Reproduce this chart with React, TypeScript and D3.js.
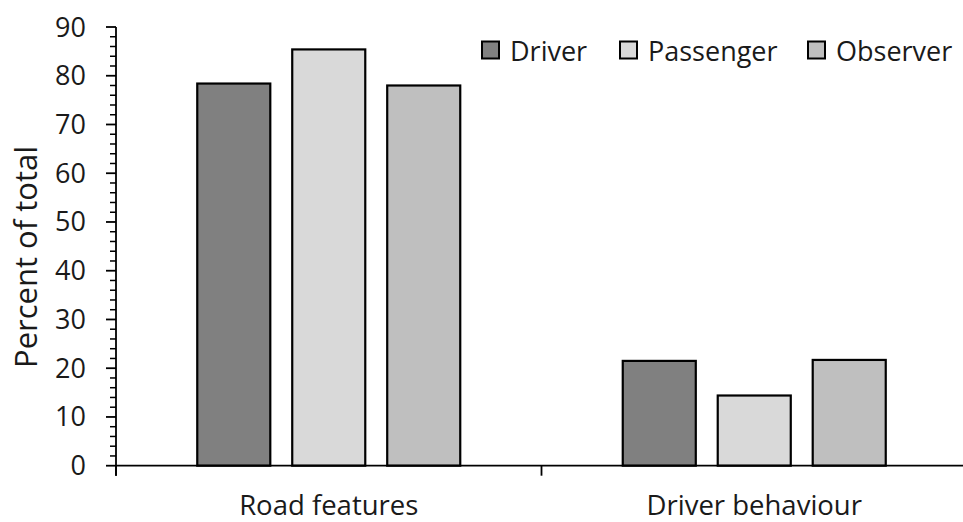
import React from "react";
import * as d3 from "d3";

// Share of responses, by respondent role
const categories = ["Road features", "Driver behaviour"];
const seriesNames = ["Driver", "Passenger", "Observer"];
const driverValues = [78.4, 21.5];
const passengerValues = [85.4, 14.4];
const observerValues = [78.0, 21.7];
const seriesColors = ["#808080", "#d9d9d9", "#bfbfbf"];
const yMajorTicks = [0, 10, 20, 30, 40, 50, 60, 70, 80, 90];
const yLabel = "Percent of total";

const W = 963;
const H = 522;
const FONT = "'Open Sans', 'DejaVu Sans', sans-serif";

export default function App() {
  const seriesValues = [driverValues, passengerValues, observerValues];

  const x0 = d3.scaleBand<string>().domain(categories).range([116, 967]).padding(0);
  const x1 = d3
    .scaleBand<string>()
    .domain(seriesNames)
    .range([0, x0.bandwidth()])
    .paddingInner(0.21)
    .paddingOuter(0.845);
  const y = d3.scaleLinear().domain([0, 90]).range([465.7, 27]);

  const minorTicks = d3.range(0, 90.001, 2).filter((v) => v % 10 !== 0);
  const axisX = x0.range()[0];
  const baseY = y(0);

  const legendItems = [
    { name: seriesNames[0], x: 482 },
    { name: seriesNames[1], x: 620 },
    { name: seriesNames[2], x: 808 },
  ];

  return (
    <svg
      width={W}
      height={H}
      style={{ position: "absolute", left: 0, top: 0, background: "#fff" }}
      fontFamily={FONT}
    >
      {/* bars */}
      {categories.map((cat, ci) =>
        seriesNames.map((s, si) => {
          const v = seriesValues[si][ci];
          const bx = (x0(cat) ?? 0) + (x1(s) ?? 0);
          return (
            <rect
              key={cat + s}
              x={bx + 1}
              y={y(v)}
              width={x1.bandwidth() - 2}
              height={baseY - y(v)}
              fill={seriesColors[si]}
              stroke="#000"
              strokeWidth={2.2}
            />
          );
        })
      )}

      {/* x axis */}
      <line x1={axisX} x2={W} y1={baseY} y2={baseY} stroke="#000" strokeWidth={1.8} />
      {[...categories.map((c) => x0(c) ?? 0), x0.range()[1]].map((tx, i) => (
        <line key={"xt" + i} x1={tx} x2={tx} y1={baseY} y2={baseY + 10} stroke="#000" strokeWidth={1.8} />
      ))}
      {categories.map((c) => (
        <text
          key={"xl" + c}
          x={(x0(c) ?? 0) + x0.bandwidth() / 2}
          y={514.5}
          textAnchor="middle"
          fontSize={27.5}
          fill="#1a1a1a"
        >
          {c}
        </text>
      ))}

      {/* y axis */}
      <line x1={axisX} x2={axisX} y1={y(90)} y2={baseY + 10} stroke="#000" strokeWidth={1.8} />
      {yMajorTicks.map((t) => (
        <g key={"ym" + t}>
          <line x1={axisX - 10} x2={axisX} y1={y(t)} y2={y(t)} stroke="#000" strokeWidth={1.8} />
          <text x={86} y={y(t) + 9.5} textAnchor="end" fontSize={27} fill="#1a1a1a">
            {t}
          </text>
        </g>
      ))}
      {minorTicks.map((t) => (
        <line key={"yn" + t} x1={axisX - 6} x2={axisX} y1={y(t)} y2={y(t)} stroke="#000" strokeWidth={1.5} />
      ))}
      <text
        transform={`translate(37,257) rotate(-90)`}
        textAnchor="middle"
        fontSize={31}
        fill="#1a1a1a"
      >
        {yLabel}
      </text>

      {/* legend */}
      {legendItems.map((item, i) => (
        <g key={"lg" + item.name}>
          <rect x={item.x} y={41.5} width={17} height={17} fill={seriesColors[i]} stroke="#000" strokeWidth={2} />
          <text x={item.x + 28} y={60.5} fontSize={27} fill="#1a1a1a">
            {item.name}
          </text>
        </g>
      ))}
    </svg>
  );
}
